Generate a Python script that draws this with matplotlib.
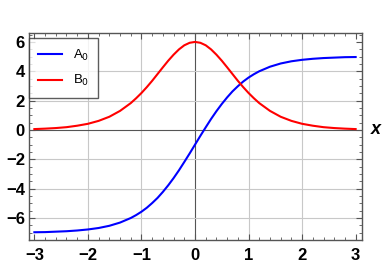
import numpy as np
import matplotlib
matplotlib.use("Agg")
import matplotlib.pyplot as plt
from matplotlib.ticker import MultipleLocator

# values (finer steps around the middle)
x = [-3.0, -2.8, -2.6, -2.4, -2.2, -2.0, -1.8, -1.6, -1.4, -1.2,
     -1.1, -1.0, -0.9, -0.8, -0.7, -0.6, -0.5, -0.4, -0.3, -0.2, -0.1,
     0.0, 0.1, 0.2, 0.3, 0.4, 0.5, 0.6, 0.7, 0.8, 0.9, 1.0, 1.1,
     1.2, 1.4, 1.6, 1.8, 2.0, 2.2, 2.4, 2.6, 2.8, 3.0]
a0 = [-6.97, -6.96, -6.93, -6.90, -6.85, -6.78, -6.68, -6.53, -6.31, -6.00,
      -5.80, -5.57, -5.30, -4.98, -4.63, -4.22, -3.77, -3.28, -2.75, -2.18, -1.60,
      -1.00, -0.40, 0.18, 0.75, 1.28, 1.77, 2.22, 2.63, 2.98, 3.30, 3.57, 3.80,
      4.00, 4.31, 4.53, 4.68, 4.78, 4.85, 4.90, 4.93, 4.96, 4.97]
b0 = [0.06, 0.09, 0.13, 0.19, 0.29, 0.42, 0.62, 0.90, 1.30, 1.83,
      2.16, 2.52, 2.92, 3.35, 3.81, 4.27, 4.72, 5.13, 5.49, 5.77, 5.94,
      6.00, 5.94, 5.77, 5.49, 5.13, 4.72, 4.27, 3.81, 3.35, 2.92, 2.52, 2.16,
      1.83, 1.30, 0.90, 0.62, 0.42, 0.29, 0.19, 0.13, 0.09, 0.06]
xticks = [-3, -2, -1, 0, 1, 2, 3]
yticks = [-6, -4, -2, 0, 2, 4, 6]

plt.rcParams['font.family'] = ['Liberation Sans', 'DejaVu Sans']

fig = plt.figure(figsize=(3.9, 2.67), dpi=100)
ax = fig.add_axes([0.0744, 0.101, 0.854, 0.775])

# grid
for t in xticks:
    if t not in (-3, 3):
        ax.axvline(t, color='#555555' if t == 0 else '#c8c8c8', lw=0.8, zorder=0)
for t in yticks:
    if t != 6:
        ax.axhline(t, color='#555555' if t == 0 else '#c8c8c8', lw=0.8, zorder=0)

ax.plot(x, a0, color='#0000ff', lw=1.5, label='A$_0$')
ax.plot(x, b0, color='#ff0000', lw=1.5, label='B$_0$')

ax.set_xlim(-3.1, 3.12)
ax.set_ylim(-7.5, 6.6)
ax.set_xticks(xticks)
ax.set_yticks(yticks)
ax.xaxis.set_minor_locator(MultipleLocator(0.2))
ax.yaxis.set_minor_locator(MultipleLocator(0.5))
ax.set_xticklabels(['\u22123', '\u22122', '\u22121', '0', '1', '2', '3'])
ax.set_yticklabels(['\u22126', '\u22124', '\u22122', '0', '2', '4', '6'])
ax.tick_params(which='both', direction='in', top=True, right=True,
               color='#555555')
ax.tick_params(which='major', length=4, width=0.8, labelsize=12)
ax.tick_params(which='minor', length=2, width=0.6)
ax.tick_params(axis='x', pad=6)
ax.tick_params(axis='y', pad=3)
for lbl in ax.get_xticklabels() + ax.get_yticklabels():
    lbl.set_fontweight('bold')
for s in ax.spines.values():
    s.set_color('#555555')
    s.set_linewidth(1.0)

ax.text(1.04, (0 + 7.5) / 14.1, 'x', transform=ax.transAxes, fontsize=13,
        fontweight='bold', fontstyle='italic', va='center', ha='center')

leg = ax.legend(loc='upper left', bbox_to_anchor=(0.0, 0.975), fontsize=9.5,
                frameon=True, fancybox=False, borderaxespad=0,
                handlelength=1.8, borderpad=0.7, labelspacing=0.8)
leg.get_frame().set_edgecolor('#333333')
leg.get_frame().set_linewidth(1.0)

fig.savefig('out.png', dpi=100)
